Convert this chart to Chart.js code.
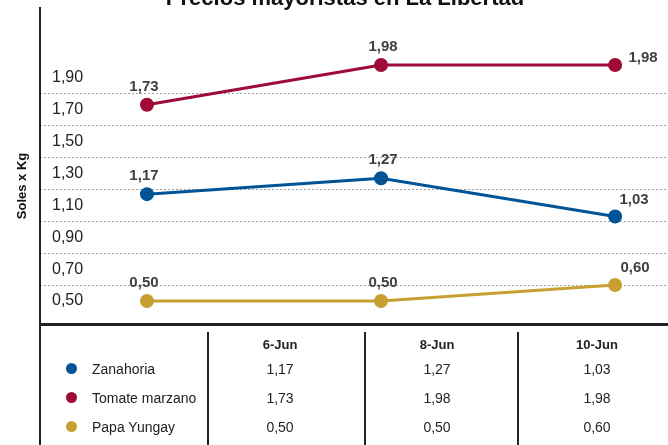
<!DOCTYPE html>
<html lang="es">
<head>
    <meta charset="UTF-8">
    <title>Precios mayoristas en La Libertad</title>
    <script src="https://cdn.jsdelivr.net/npm/chart.js"></script>
    <style>
        body {
            margin: 0;
            background: #fff;
            font-family: "Liberation Sans", Arial, sans-serif;
            color: #222;
        }
        #wrap {
            position: relative;
            width: 668px;
            height: 445px;
            overflow: hidden;
            background: #fff;
        }
        #chart {
            position: absolute;
            left: 0;
            top: 0;
        }
        .line {
            position: absolute;
            background: #222;
        }
        .cell {
            position: absolute;
            width: 120px;
            height: 18px;
            line-height: 18px;
            text-align: center;
            font-size: 14px;
            color: #222;
            white-space: nowrap;
        }
        .head {
            font-weight: bold;
            font-size: 13px;
        }
        .name {
            text-align: left;
        }
        .dot {
            position: absolute;
            width: 11px;
            height: 11px;
            border-radius: 50%;
        }
    </style>
</head>
<body>
<div id="wrap">
    <canvas id="chart" width="668" height="347"></canvas>
    <div class="line" style="left:39px; top:7px; width:2px; height:438px;"></div>
    <div class="line" style="left:40px; top:323px; width:628px; height:3px;"></div>
    <div class="line" style="left:207px; top:332px; width:2px; height:113px;"></div>
    <div class="line" style="left:364px; top:332px; width:2px; height:113px;"></div>
    <div class="line" style="left:517px; top:332px; width:2px; height:113px;"></div>
    <div id="table"></div>
</div>

<script>
    // data
    const categories = ['6-Jun', '8-Jun', '10-Jun'];
    const seriesNames = ['Zanahoria', 'Tomate marzano', 'Papa Yungay'];
    const zanahoria = [1.17, 1.27, 1.03];
    const tomate = [1.73, 1.98, 1.98];
    const papa = [0.50, 0.50, 0.60];
    const tickLabels = [0.5, 0.7, 0.9, 1.1, 1.3, 1.5, 1.7, 1.9];
    const gridValues = [0.6, 0.8, 1.0, 1.2, 1.4, 1.6, 1.8];

    const colors = ['#005496', '#a00a37', '#c8a032'];
    const allSeries = [zanahoria, tomate, papa];

    const fmt = v => v.toFixed(2).replace('.', ',');

    // header + rows of the data table under the chart
    function buildTable() {
        const table = document.getElementById('table');
        const colCenters = [280, 437, 597];
        const rowCenters = [369, 398, 427];
        let html = '';
        categories.forEach((c, i) => {
            html += `<div class="cell head" style="left:${colCenters[i] - 60}px; top:336px;">${c}</div>`;
        });
        seriesNames.forEach((name, r) => {
            const y = rowCenters[r];
            html += `<div class="dot" style="left:66px; top:${y - 6}px; background:${colors[r]};"></div>`;
            html += `<div class="cell name" style="left:92px; top:${y - 9}px;">${name}</div>`;
            allSeries[r].forEach((v, i) => {
                html += `<div class="cell" style="left:${colCenters[i] - 60}px; top:${y - 9}px;">${fmt(v)}</div>`;
            });
        });
        table.innerHTML = html;
    }
    buildTable();

    const textPlugin = {
        id: 'textPlugin',
        afterDatasetsDraw(chart) {
            const ctx = chart.ctx;
            ctx.save();
            ctx.fillStyle = '#404040';
            ctx.font = 'bold 15px "Liberation Sans", Arial, sans-serif';
            ctx.textAlign = 'center';
            ctx.textBaseline = 'middle';
            chart.data.datasets.forEach((ds, di) => {
                const meta = chart.getDatasetMeta(di);
                meta.data.forEach((pt, i) => {
                    let dx = i === 0 ? -3 : 2;
                    let dy = -18;
                    if (i === ds.data.length - 1) {
                        dx = ds.lastLabel.dx;
                        dy = ds.lastLabel.dy;
                    }
                    ctx.fillText(fmt(ds.data[i].y), pt.x + dx, pt.y + dy);
                });
            });
            ctx.restore();
        },
        afterDraw(chart) {
            const ctx = chart.ctx;
            ctx.save();
            ctx.fillStyle = '#111';
            ctx.textAlign = 'center';
            ctx.font = 'bold 22px "Liberation Sans", Arial, sans-serif';
            ctx.textBaseline = 'alphabetic';
            ctx.fillText('Precios mayoristas en La Libertad', 345, 5);

            ctx.translate(22, 186);
            ctx.rotate(-Math.PI / 2);
            ctx.textBaseline = 'middle';
            ctx.font = 'bold 13px "Liberation Sans", Arial, sans-serif';
            ctx.fillText('Soles x Kg', 0, 0);
            ctx.restore();
        }
    };

    const order = [1, 0, 2];
    const lastLabels = [{dx: 19, dy: -17}, {dx: 28, dy: -7}, {dx: 20, dy: -17}];

    new Chart(document.getElementById('chart'), {
        type: 'line',
        data: {
            datasets: order.map(s => ({
                label: seriesNames[s],
                data: allSeries[s].map((v, i) => ({x: i, y: v})),
                borderColor: colors[s],
                backgroundColor: colors[s],
                borderWidth: 3,
                pointRadius: 5.5,
                pointHoverRadius: 5.5,
                tension: 0,
                lastLabel: lastLabels[s]
            }))
        },
        options: {
            responsive: false,
            animation: false,
            layout: {
                autoPadding: false,
                padding: {left: 16, right: 0, top: 22, bottom: 22}
            },
            plugins: {
                legend: {display: false},
                title: {display: false},
                tooltip: {enabled: false}
            },
            scales: {
                x: {
                    type: 'linear',
                    min: -0.457,
                    max: 2.226,
                    display: false
                },
                y: {
                    type: 'linear',
                    position: 'left',
                    min: 0.3495,
                    max: 2.2492,
                    weight: 1,
                    afterBuildTicks: scale => {
                        scale.ticks = tickLabels.map(v => ({value: v}));
                    },
                    grid: {display: false, drawTicks: false},
                    border: {display: false},
                    ticks: {
                        mirror: true,
                        padding: 12,
                        color: '#222',
                        font: {size: 16, family: '"Liberation Sans", Arial, sans-serif'},
                        callback: v => fmt(v)
                    }
                },
                yGrid: {
                    type: 'linear',
                    position: 'left',
                    min: 0.3495,
                    max: 2.2492,
                    weight: 2,
                    afterBuildTicks: scale => {
                        scale.ticks = gridValues.map(v => ({value: v}));
                    },
                    grid: {
                        color: '#a0a0a0',
                        lineWidth: 1,
                        drawTicks: false
                    },
                    border: {display: false, dash: [2, 2]},
                    ticks: {display: false}
                }
            }
        },
        plugins: [textPlugin]
    });
</script>
</body>
</html>
